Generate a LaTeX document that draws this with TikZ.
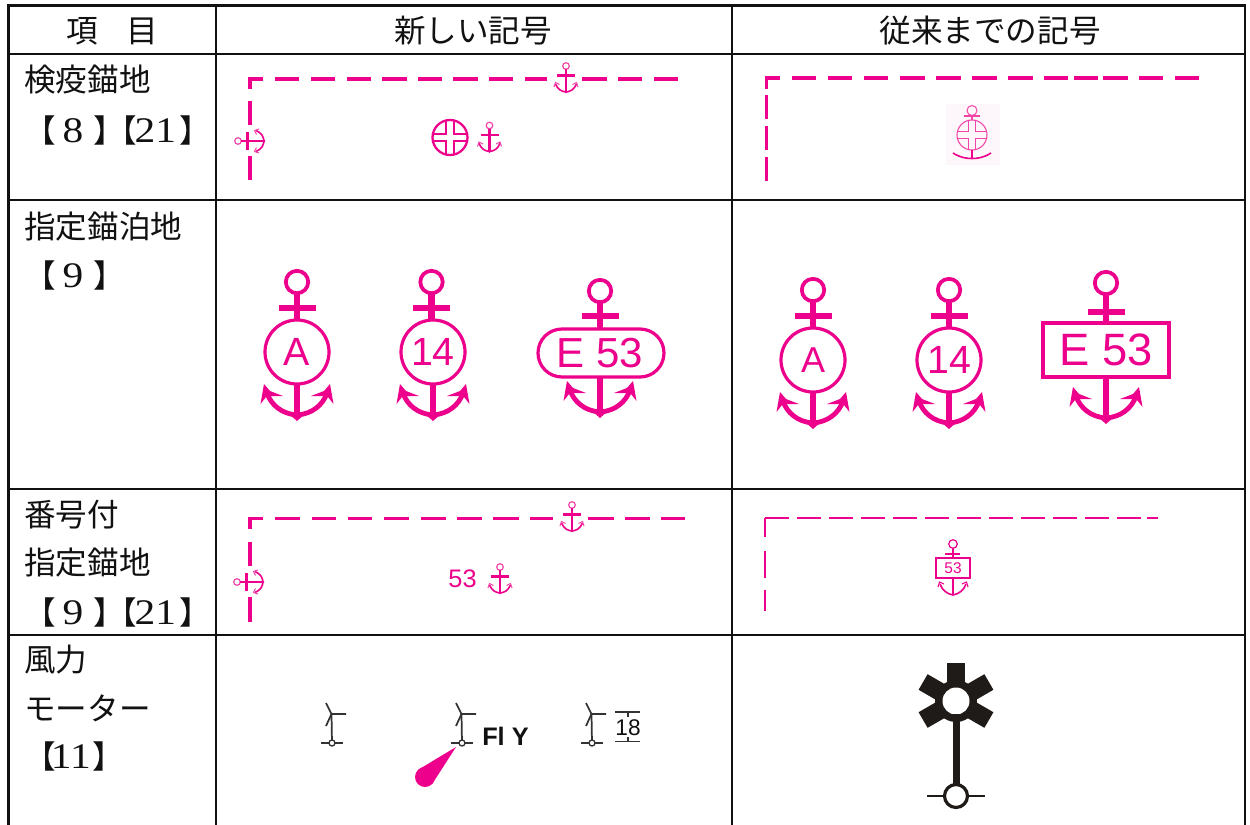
\documentclass[tikz,border=0pt]{standalone}
\usepackage{fontspec}
\setmainfont{Noto Sans CJK JP}
\newfontfamily\serifdigits[FakeStretch=1.15]{Liberation Serif}
\newfontfamily\arialfont{Liberation Sans}
\definecolor{mg}{HTML}{EC008C}
\definecolor{mglight}{HTML}{F046A8}
\definecolor{mgpale}{HTML}{FDF6FA}
\definecolor{ink}{HTML}{111111}
\definecolor{wind}{HTML}{333333}
\definecolor{blk}{HTML}{1E1B19}
\tikzset{
  rule/.style={draw=ink,line width=2.1pt,line cap=rect},
  cjk/.style={inner sep=0pt,font=\fontsize{23.7pt}{24pt}\selectfont,text=ink},
  label/.style={cjk,anchor=west},
  head/.style={cjk,anchor=center},
  dashln/.style={draw=mg,line width=2.3pt},
  dashthin/.style={draw=mg,line width=1.5pt},
  sym/.style={inner sep=0pt,text=mg,font=\arialfont\fontsize{#1}{#1}\selectfont},
}
\newcommand{\dg}[1]{{\serifdigits\fontsize{27pt}{27pt}\selectfont #1}}
% small anchor: origin at ring centre, shank pointing down
\newcommand{\smallanchor}[3]{%
\begin{scope}[shift={(#1,#2)},rotate=#3]
  \draw[mglight,line width=.9pt] (0,0) circle[radius=3.3];
  \draw[mg,line width=1.7pt] (0,3.3) -- (0,26);
  \draw[mg,line width=1.7pt] (-9,9.5) -- (9,9.5);
  \draw[mg,line width=1.2pt] (-10.5,18) .. controls (-8,24) and (-4,25.5) .. (0,26) .. controls (4,25.5) and (8,24) .. (10.5,18);
  \fill[mg] (-1.8,25) -- (0,27.5) -- (1.8,25) -- cycle;
  \draw[mglight,line width=.8pt] (-12,21) -- (-10.5,16.5) -- (-6.5,18.5);
  \draw[mglight,line width=.8pt] (12,21) -- (10.5,16.5) -- (6.5,18.5);
\end{scope}}
% ring and crossbar of big anchor: ring centre x,y; crossbar y
\newcommand{\bigtop}[4]{% x, ring y, bar y, shank end y
  \draw[mg,line width=2.8pt] (#1,#2) circle[radius=11.2];
  \draw[mg,line width=5pt] (#1,#2+11) -- (#1,#4);
  \draw[mg,line width=5pt] (#1-18.5,#3) -- (#1+18.5,#3);
}
% flukes and shank, tip at x,y
\newcommand{\bigbottom}[3]{% x, tip y, shank start y
  \draw[mg,line width=5pt] (#1,#3) -- (#1,#2-5);
  \fill[mg] (#1-8,#2-7) -- (#1,#2) -- (#1+8,#2-7) -- cycle;
  \draw[mg,line width=3.6pt] (#1-30,#2-28) .. controls (#1-26,#2-16) and (#1-15,#2-7) .. (#1,#2-6) .. controls (#1+15,#2-7) and (#1+26,#2-16) .. (#1+30,#2-28);
  \fill[mg] (#1-33,#2-37) -- (#1-36.5,#2-17) -- (#1-31,#2-24) -- (#1-28,#2-25) -- (#1-14,#2-25) -- (#1-27,#2-30) -- cycle;
  \fill[mg] (#1+33,#2-37) -- (#1+36.5,#2-17) -- (#1+31,#2-24) -- (#1+28,#2-25) -- (#1+14,#2-25) -- (#1+27,#2-30) -- cycle;
}
\newcommand{\turbine}[2]{%
\begin{scope}[shift={(#1,#2)}]
  \draw[wind,line width=1.3pt] (-11,0) -- (11,0);
  \draw[wind,line width=1.3pt] (0,0) -- (-.5,-29) -- (14,-29);
  \draw[wind,line width=1.3pt] (-6,-40) -- (-.5,-29) -- (-6,-17);
  \draw[wind,line width=1pt,fill=white] (0,0) circle[radius=3];
\end{scope}}
\begin{document}
\begin{tikzpicture}[x=0.75pt,y=-0.75pt]
\useasboundingbox (0,0) rectangle (1250,825);
\fill[white] (0,0) rectangle (1250,825);
% table rules
\draw[rule] (8.5,5.5) -- (1245,5.5);
\draw[rule] (8.5,54) -- (1245,54);
\draw[rule] (8.5,200) -- (1245,200);
\draw[rule] (8.5,489) -- (1245,489);
\draw[rule] (8.5,635) -- (1245,635);
\draw[rule] (8.5,5.5) -- (8.5,825);
\draw[rule] (216,5.5) -- (216,825);
\draw[rule] (732,5.5) -- (732,825);
\draw[rule] (1245,5.5) -- (1245,825);
% headers
\node[head] (h1) at (112,31) {項\hspace{21.5pt}目};
\node[head] (h2) at (473,31) {新しい記号};
\node[head] (h3) at (990,31) {従来までの記号};
% first column
\node[label] (a1) at (24,80) {検疫錨地};
\node[label] (a2) at (24,130) {【\hspace{5pt}\dg{8}\hspace{8pt}】\hspace{-14.8pt}【\hspace{-2pt}\dg{21}\hspace{2.8pt}】};
\node[label] (b1) at (24,227) {指定錨泊地};
\node[label] (b2) at (24,275) {【\hspace{5pt}\dg{9}\hspace{8pt}】};
\node[label] (c1) at (24,515) {番号付};
\node[label] (c2) at (24,563) {指定錨地};
\node[label] (c3) at (24,612) {【\hspace{5pt}\dg{9}\hspace{8pt}】\hspace{-14.8pt}【\hspace{-2pt}\dg{21}\hspace{2.8pt}】};
\node[label] (d1) at (24,660) {風力};
\node[label] (d2) at (24,708) {モーター};
\node[label] (d3) at (24,756) {【\hspace{-3.7pt}\dg{11}\hspace{1.5pt}】};
% row 1 new
\draw[dashln] (263,79) -- (250,79) -- (250,89);
\foreach \a/\b in {275/299,311/335,347/371,382/407,418/442,453/478,489/513,525/547,582/607,618/642,654/678}
  \draw[dashln] (\a,79) -- (\b,79);
\foreach \a/\b in {101/125,156/180}
  \draw[dashln] (250,\a) -- (250,\b);
\smallanchor{566}{66}{0}
\smallanchor{238}{141}{90}
\draw[mg,line width=1.7pt] (450,137.5) circle[radius=17.5];
\foreach \sx/\sy in {-1/-1,1/-1,-1/1,1/1}
  \draw[mg,line width=1.2pt] (450+\sx*4,137.5+\sy*17) -- (450+\sx*4,137.5+\sy*3.5) -- (450+\sx*17,137.5+\sy*3.5);
\smallanchor{489.5}{125.5}{0}
% row 1 old
\draw[dashln] (780,78) -- (766.5,78) -- (766.5,89);
\foreach \a/\b in {792/816,828/852,864/888,900/925,936/961,972/997,1008/1033,1044/1068,1074/1098,1103/1128,1139/1163,1175/1199}
  \draw[dashln] (\a,78) -- (\b,78);
\foreach \a/\b in {95/119,126/150,157/181}
  \draw[dashln] (766.5,\a) -- (766.5,\b);
\fill[mgpale] (946,104) rectangle (1000,165);
\draw[mglight,line width=.75pt] (972,110.5) circle[radius=5];
\draw[mglight,line width=1pt] (964,116) -- (980,116);
\draw[mglight,line width=.8pt] (972,115.5) -- (972,120);
\draw[mglight,line width=.8pt] (972,135) circle[radius=15];
\foreach \sx/\sy in {-1/-1,1/-1,-1/1,1/1}
  \draw[mglight,line width=.7pt] (972+\sx*3.5,135+\sy*14.6) -- (972+\sx*3.5,135+\sy*3.5) -- (972+\sx*14.6,135+\sy*3.5);
\draw[mg,line width=1.4pt] (972,150) -- (972,159);
\draw[mg,line width=1.2pt] (953,153) .. controls (960,157.5) and (966,158.5) .. (972,158.5) .. controls (978,158.5) and (984,157.5) .. (991,153);
% row 2 new
\bigtop{297}{282}{308}{320}
\draw[mg,line width=2.4pt] (297,352) circle[radius=32];
\node[sym=29.5pt] (n1) at (297,352) {A};
\bigtop{431.5}{282}{308}{320}
\draw[mg,line width=2.4pt] (433,352) circle[radius=32];
\node[sym=29.5pt] (n2) at (433,352) {14};
\bigbottom{297}{421}{384}
\bigbottom{433}{421}{384}
\bigtop{600}{291}{316}{329}
\draw[mg,line width=2.4pt,rounded corners=18pt] (538,329) rectangle (664,377);
\node[sym=31.5pt] (n3) at (600,353) {E 53};
\bigbottom{600}{418}{377}
% row 2 old
\bigtop{813}{290}{316}{328}
\draw[mg,line width=2.4pt] (813,360) circle[radius=32];
\node[sym=27pt] (o1) at (813,360) {A};
\bigbottom{813}{429}{392}
\bigtop{949}{290}{316}{328}
\draw[mg,line width=2.4pt] (949,360) circle[radius=32];
\node[sym=29.5pt] (o2) at (949,360) {14};
\bigbottom{949}{429}{392}
\bigtop{1106}{283}{312}{322}
\draw[mg,line width=3pt] (1043,322.5) rectangle (1169,376.5);
\node[sym=34pt] (o3) at (1106,350) {E 53};
\bigbottom{1106}{424}{377}
% row 3 new
\draw[dashln] (263,518.5) -- (250,518.5) -- (250,529);
\foreach \a/\b in {275/300,312/336,348/372,384/409,421/446,457/482,493/519,530/553,588/614,625/650,661/685}
  \draw[dashln] (\a,518.5) -- (\b,518.5);
\foreach \a/\b in {542/566,597/622}
  \draw[dashln] (250,\a) -- (250,\b);
\smallanchor{572}{505}{0}
\smallanchor{237}{582}{90}
\node[sym=19pt] (n53) at (462.5,579) {53};
\smallanchor{500}{567}{0}
% row 3 old
\foreach \a/\b in {765/789,797/821,829/853,861/885,893/917,925/949,957/981,989/1013,1021/1045,1053/1077,1085/1109,1117/1141,1147/1158}
  \draw[dashthin] (\a,518) -- (\b,518);
\foreach \a/\b in {518/537,551/578,590/611}
  \draw[dashthin] (765,\a) -- (765,\b);
\draw[mg,line width=.9pt] (953,544) circle[radius=4.3];
\draw[mg,line width=1.2pt] (953,548) -- (953,558);
\draw[mg,line width=1.3pt] (945,554) -- (960,554);
\draw[mg,line width=.9pt] (936,558) rectangle (970,578);
\node[sym=11.6pt] (o53) at (953,568) {53};
\draw[mg,line width=1.6pt] (953,578) -- (953,595);
\draw[mg,line width=1.2pt] (940,584) .. controls (942,590) and (947,594) .. (953,595) .. controls (959,594) and (964,590) .. (966,584);
\draw[mg,line width=.8pt] (938,587) -- (939.5,582) -- (944,584);
\draw[mg,line width=.8pt] (968,587) -- (966.5,582) -- (962,584);
% row 4 new
\turbine{332}{743}
\turbine{462}{743}
\turbine{592}{743}
\node[inner sep=0pt,anchor=west,text=ink,font=\arialfont\bfseries\fontsize{19pt}{19pt}\selectfont] (fly) at (482,736) {Fl Y};
\fill[mg] (425,777) circle[radius=10];
\fill[mg] (456,747) -- (432.2,783.9) -- (418.1,769.8) -- cycle;
\node[inner sep=0pt,text=ink,font=\arialfont\fontsize{17pt}{17pt}\selectfont] (eighteen) at (628,728) {18};
\draw[wind,line width=1.2pt] (615,712) -- (640,712);
\draw[wind,line width=1.2pt] (615,741.5) -- (640,741.5);
\draw[wind,line width=.8pt] (628,712) -- (628,717);
\draw[wind,line width=.8pt] (628,737) -- (628,741.5);
% row 4 old
\fill[blk] (956,701) circle[radius=21];
\foreach \ang in {0,60,120,240,300}
  \fill[blk,rotate around={\ang:(956,701)}] (947,701) rectangle (965,663);
\fill[white] (956,701) circle[radius=13.5];
\fill[blk] (952.5,713.5) rectangle (959.5,785);
\draw[blk,line width=1.9pt] (927,796) -- (945,796);
\draw[blk,line width=1.9pt] (967,796) -- (985,796);
\draw[blk,line width=2.4pt,fill=white] (956,796) circle[radius=11.5];
\end{tikzpicture}
\end{document}
